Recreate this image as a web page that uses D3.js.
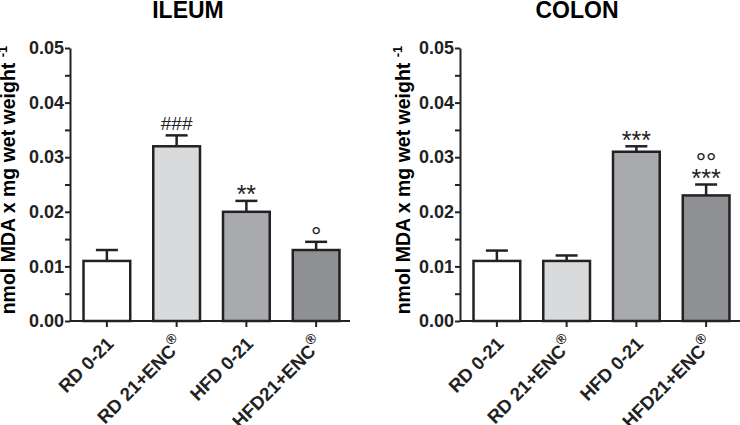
<!DOCTYPE html>
<html>
<head>
<meta charset="utf-8">
<script src="https://cdn.jsdelivr.net/npm/d3@7"></script>
<style>
  body { margin: 0; background: #fff; }
  svg { display: block; font-family: "Liberation Sans", Arial, sans-serif; }
</style>
</head>
<body>
<svg id="chart" width="740" height="425"></svg>
<script>
// Data
const categories = ["RD 0-21", "RD 21+ENC®", "HFD 0-21", "HFD21+ENC®"];
const ileumMean = [0.011, 0.032, 0.020, 0.013];
const ileumSem = [0.002, 0.002, 0.002, 0.0015];
const colonMean = [0.011, 0.011, 0.031, 0.023];
const colonSem = [0.0019, 0.001, 0.001, 0.002];
// significance marks, listed from the bar upwards
const ileumMarks = [[], ["###"], ["**"], ["°"]];
const colonMarks = [[], [], ["***"], ["***", "°°"]];
const yTicks = [0, 0.01, 0.02, 0.03, 0.04, 0.05];
const yMinorTicks = [0.005, 0.015, 0.025, 0.035, 0.045];

const barColors = ["#ffffff", "#d9dadc", "#a9aaae", "#8f9094"];
const ink = "#222";

// glyph size / vertical centre (in em above baseline) per symbol
const markStyle = {
    "#": { size: 19, c: 0.36 },
    "*": { size: 25, c: 0.58 },
    "°": { size: 26, c: 0.58 }
};

const svg = d3.select("#chart");

const y = d3.scaleLinear().domain([0, 0.05]).range([321, 48]);

function drawPanel(opts) {
    const g = svg.append("g");
    const axisX = opts.x0;

    const x = d3.scaleBand()
        .domain(categories)
        .range([axisX + 2, axisX + 281])
        .paddingInner(0.33)
        .paddingOuter(0.165);

    // Title
    g.append("text")
        .attr("x", opts.titleX)
        .attr("y", 18)
        .attr("text-anchor", "middle")
        .style("font-size", "23px")
        .style("font-weight", "bold")
        .text(opts.title);

    // Y label
    const yl = g.append("text")
        .attr("transform", `translate(${opts.labelX},180) rotate(-90)`)
        .attr("text-anchor", "middle")
        .style("font-size", "19.5px")
        .style("font-weight", "bold");
    yl.append("tspan").text("nmol MDA x mg wet weight ");
    yl.append("tspan").attr("dy", -8).style("font-size", "13px").text("-1");

    // Bars
    g.selectAll(".bar")
        .data(categories)
        .enter()
        .append("rect")
        .attr("class", "bar")
        .attr("x", d => x(d))
        .attr("y", (d, i) => y(opts.means[i]))
        .attr("width", x.bandwidth())
        .attr("height", (d, i) => y(0) - y(opts.means[i]))
        .attr("fill", (d, i) => barColors[i])
        .attr("stroke", ink)
        .attr("stroke-width", 2.5);

    // Error bars (upper only)
    categories.forEach((c, i) => {
        const cx = x(c) + x.bandwidth() / 2;
        const top = y(opts.means[i] + opts.sems[i]);
        g.append("line")
            .attr("x1", cx).attr("x2", cx)
            .attr("y1", y(opts.means[i])).attr("y2", top)
            .attr("stroke", ink).attr("stroke-width", 2.5);
        g.append("line")
            .attr("x1", cx - 11).attr("x2", cx + 11)
            .attr("y1", top).attr("y2", top)
            .attr("stroke", ink).attr("stroke-width", 2.5);

        // significance marks, stacked in one text element
        if (opts.marks[i].length) {
            const mt = g.append("text")
                .attr("text-anchor", "middle")
                .attr("fill", ink);
            opts.marks[i].forEach((m, j) => {
                const st = markStyle[m[0]];
                const centre = top - 12 - j * 17;
                mt.append("tspan")
                    .attr("x", cx)
                    .attr("y", centre + st.c * st.size)
                    .style("font-size", st.size + "px")
                    .text(m);
            });
        }
    });

    // Y axis
    const yAxis = g.append("g")
        .attr("transform", `translate(${axisX},0)`)
        .call(d3.axisLeft(y).tickValues(yTicks).tickFormat(d3.format(".2f"))
            .tickSize(5).tickSizeOuter(0).tickPadding(1));
    yAxis.selectAll("text")
        .style("font-size", "18px")
        .style("font-weight", "bold")
        .attr("fill", ink);

    const yMinor = g.append("g")
        .attr("transform", `translate(${axisX},0)`)
        .call(d3.axisLeft(y).tickValues(yMinorTicks).tickFormat("").tickSize(5).tickSizeOuter(0));
    yMinor.select(".domain").remove();

    [yAxis, yMinor].forEach(a => {
        a.selectAll("line").attr("stroke", ink).attr("stroke-width", 2);
        a.selectAll(".domain").attr("stroke", ink).attr("stroke-width", 2);
    });

    // X axis
    const xAxis = g.append("g")
        .attr("transform", `translate(0,${y(0)})`)
        .call(d3.axisBottom(x).tickSize(6).tickSizeOuter(0).tickFormat(""));
    xAxis.select(".domain")
        .attr("d", `M${axisX},0H${axisX + 280}`)
        .attr("stroke", ink).attr("stroke-width", 2);
    xAxis.selectAll("line").attr("stroke", ink).attr("stroke-width", 2);

    // Rotated category labels
    categories.forEach(c => {
        const cx = x(c) + x.bandwidth() / 2;
        const t = g.append("text")
            .attr("transform", `translate(${cx + 8},345) rotate(-45)`)
            .attr("text-anchor", "end")
            .style("font-size", "18.5px")
            .style("font-weight", "bold")
            .attr("fill", ink);
        const parts = c.split("®");
        t.append("tspan").text(parts[0]);
        if (c.includes("®")) {
            t.append("tspan").attr("dy", -9).style("font-size", "14px").text("®");
        }
    });
}

drawPanel({
    x0: 70, title: "ILEUM", titleX: 188, labelX: 15,
    means: ileumMean, sems: ileumSem, marks: ileumMarks
});
drawPanel({
    x0: 460, title: "COLON", titleX: 577, labelX: 410,
    means: colonMean, sems: colonSem, marks: colonMarks
});
</script>
</body>
</html>
